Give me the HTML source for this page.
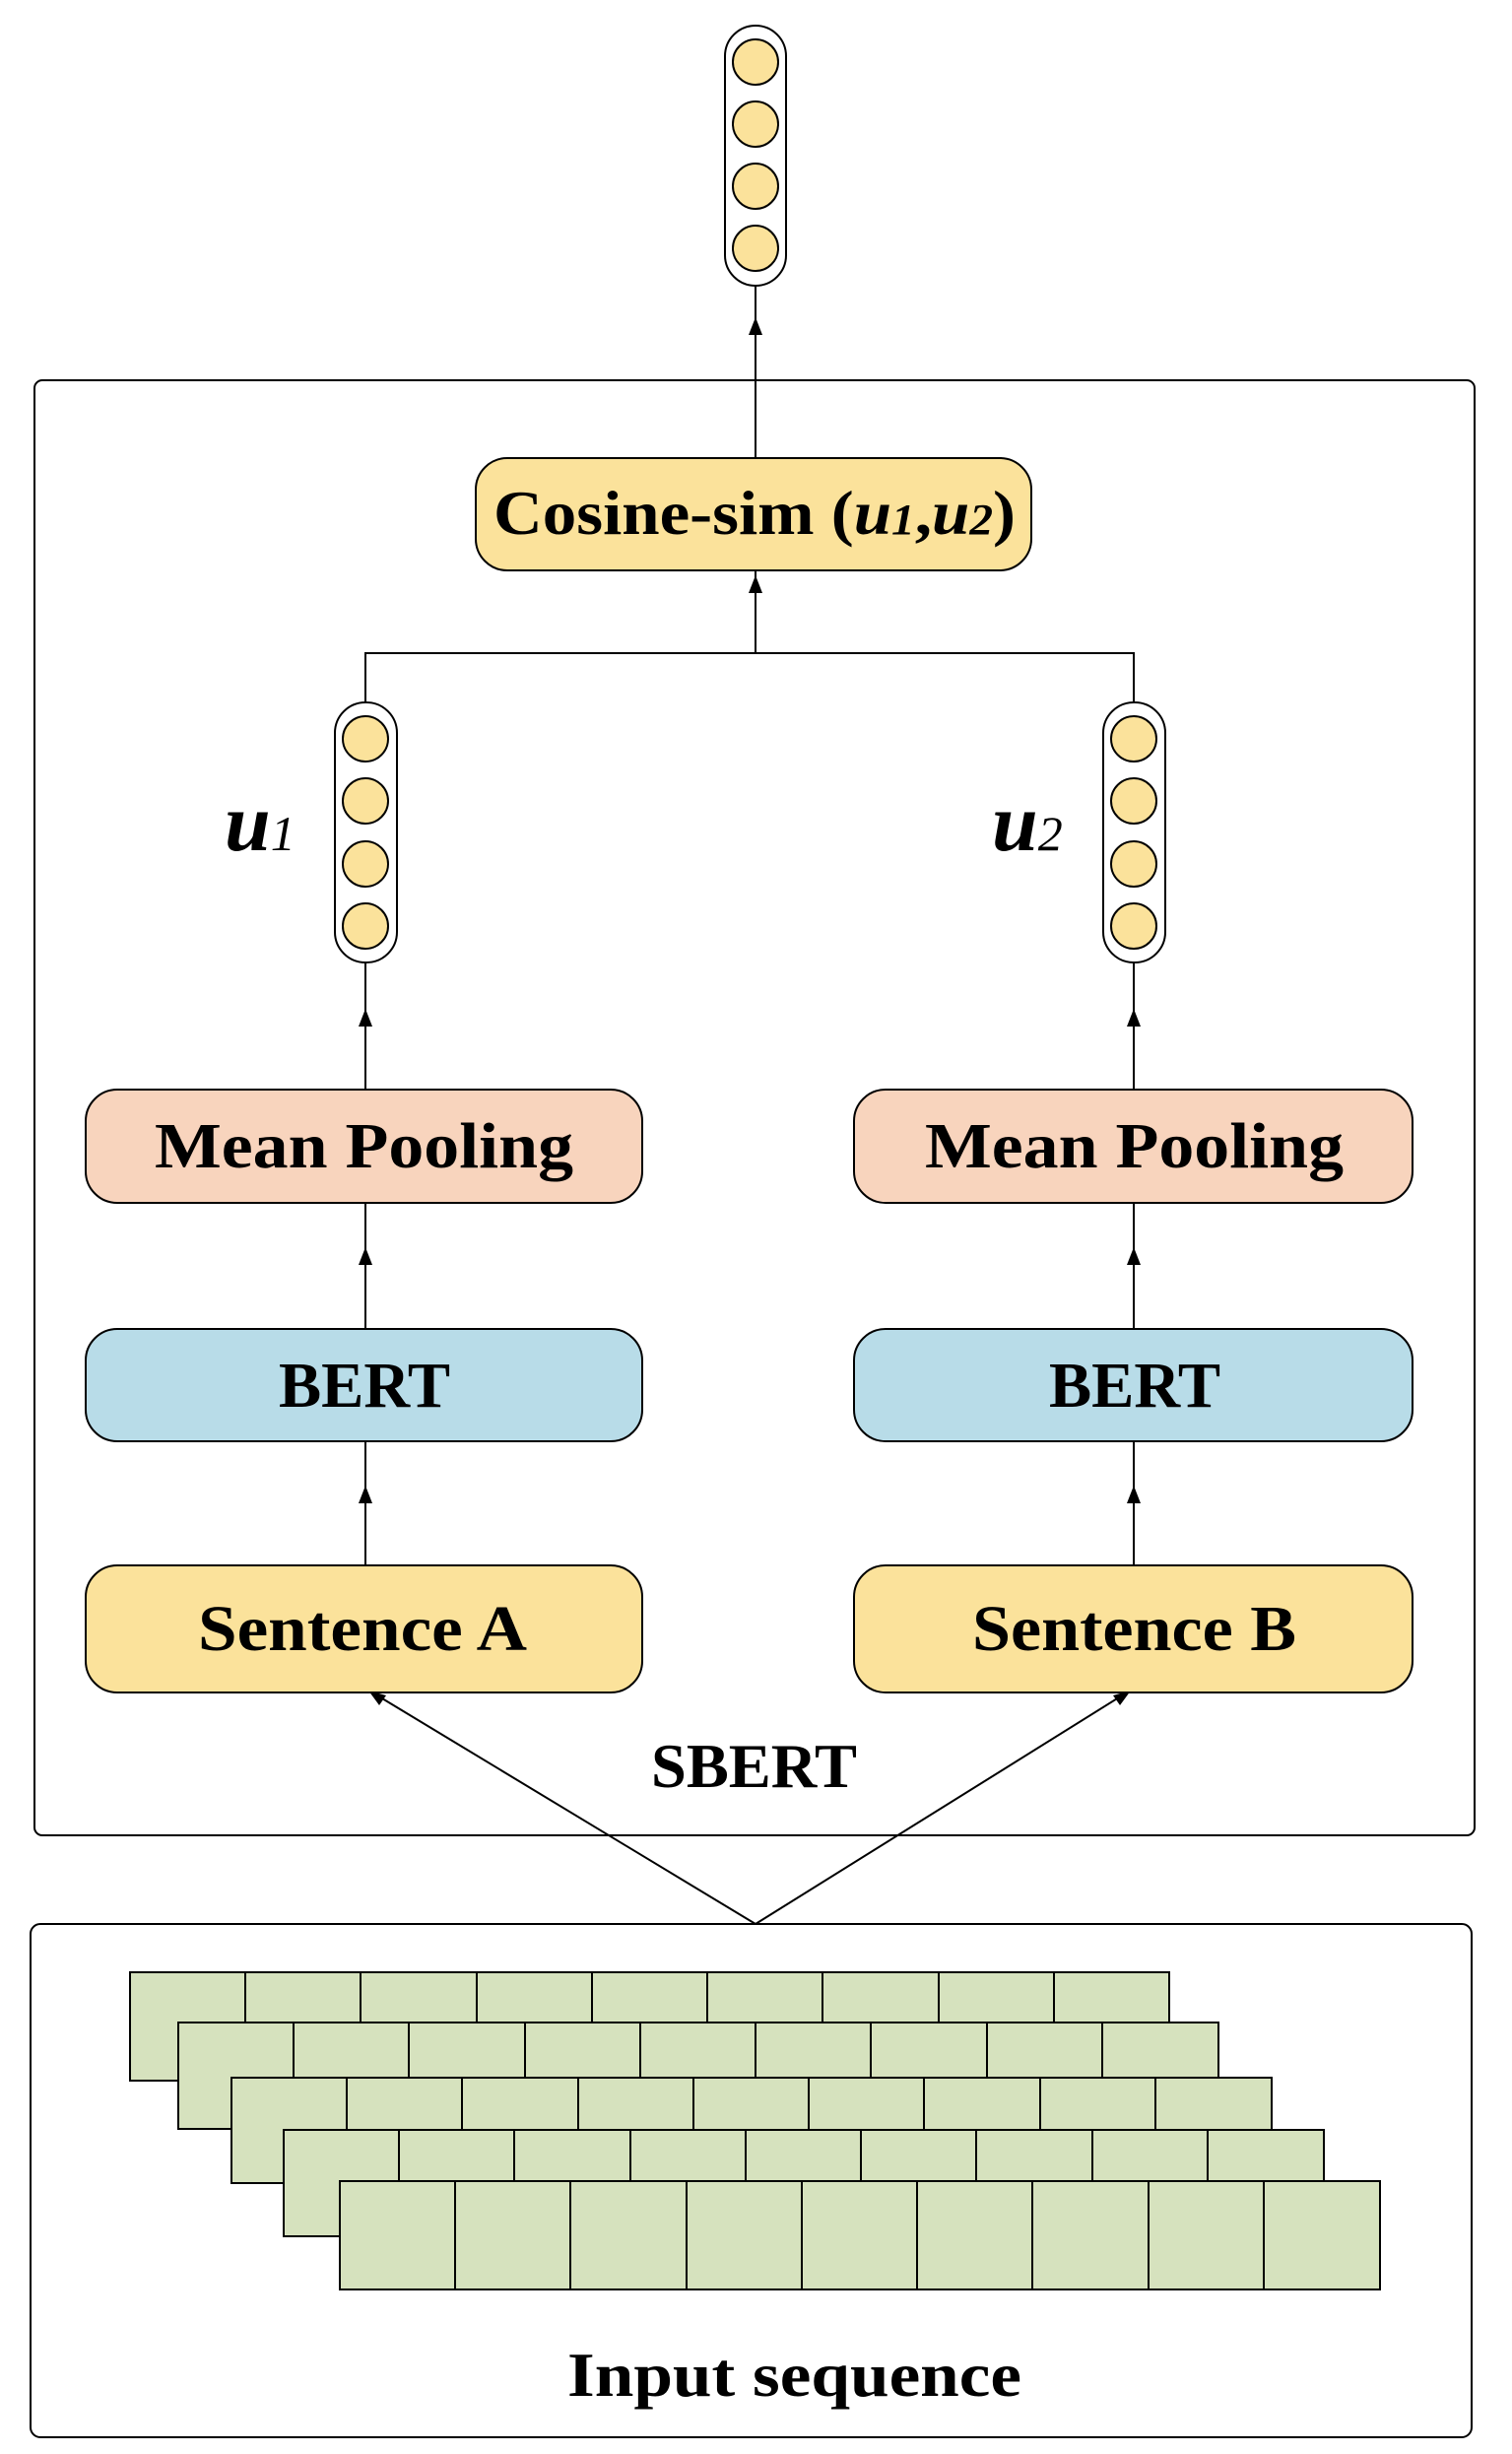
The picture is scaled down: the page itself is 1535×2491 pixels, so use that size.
<!DOCTYPE html>
<html><head><meta charset="utf-8"><style>
html,body{margin:0;padding:0;background:#fff;}
svg{display:block;}
text{font-family:"Liberation Serif",serif;font-weight:bold;fill:#000;}
</style></head><body>
<svg width="1535" height="2491" viewBox="0 0 1535 2491" xmlns="http://www.w3.org/2000/svg">
<defs>
<marker id="ah" viewBox="0 0 10 10" refX="9" refY="5" markerWidth="7" markerHeight="7" orient="auto-start-reverse" markerUnits="userSpaceOnUse">
<path d="M0,0 L10,5 L0,10 z" fill="#000" transform="scale(1)"/>
</marker>
</defs>
<g stroke="#000" stroke-width="2" fill="none">
<rect x="35" y="386" width="1462" height="1477" rx="8"/>
<rect x="31" y="1953" width="1463" height="521" rx="10"/>
</g>

<!-- top vector -->
<g stroke="#000" stroke-width="2">
<rect x="736" y="26" width="62" height="264" rx="31" fill="#fff"/>
<circle cx="767" cy="63" r="23" fill="#fbe29b"/>
<circle cx="767" cy="126" r="23" fill="#fbe29b"/>
<circle cx="767" cy="189" r="23" fill="#fbe29b"/>
<circle cx="767" cy="252" r="23" fill="#fbe29b"/>
</g>
<!-- u1 vector -->
<g stroke="#000" stroke-width="2">
<rect x="340" y="713" width="63" height="264" rx="31" fill="#fff"/>
<circle cx="371" cy="750" r="23" fill="#fbe29b"/>
<circle cx="371" cy="813" r="23" fill="#fbe29b"/>
<circle cx="371" cy="877" r="23" fill="#fbe29b"/>
<circle cx="371" cy="940" r="23" fill="#fbe29b"/>
</g>
<!-- u2 vector -->
<g stroke="#000" stroke-width="2">
<rect x="1120" y="713" width="63" height="264" rx="31" fill="#fff"/>
<circle cx="1151" cy="750" r="23" fill="#fbe29b"/>
<circle cx="1151" cy="813" r="23" fill="#fbe29b"/>
<circle cx="1151" cy="877" r="23" fill="#fbe29b"/>
<circle cx="1151" cy="940" r="23" fill="#fbe29b"/>
</g>

<!-- connectors -->
<g stroke="#000" stroke-width="2" fill="none">
<line x1="767" y1="465" x2="767" y2="318"/>
<line x1="767" y1="290" x2="767" y2="318"/>
<polyline points="371,713 371,663 1151,663 1151,713"/>
<line x1="767" y1="663" x2="767" y2="600"/>
<line x1="767" y1="600" x2="767" y2="579"/>
<line x1="371" y1="1106" x2="371" y2="977"/>
<line x1="1151" y1="1106" x2="1151" y2="977"/>
<line x1="371" y1="1349" x2="371" y2="1221"/>
<line x1="1151" y1="1349" x2="1151" y2="1221"/>
<line x1="371" y1="1589" x2="371" y2="1463"/>
<line x1="1151" y1="1589" x2="1151" y2="1463"/>
<line x1="767" y1="1953" x2="378" y2="1718"/>
<line x1="767" y1="1953" x2="1144" y2="1718"/>
</g>
<g fill="#000">
<path d="M760,340 L774,340 L767,322 z"/>
<path d="M760,602 L774,602 L767,584 z"/>
<path d="M364,1042 L378,1042 L371,1024 z"/>
<path d="M1144,1042 L1158,1042 L1151,1024 z"/>
<path d="M364,1284 L378,1284 L371,1266 z"/>
<path d="M1144,1284 L1158,1284 L1151,1266 z"/>
<path d="M364,1526 L378,1526 L371,1508 z"/>
<path d="M1144,1526 L1158,1526 L1151,1508 z"/>
<path d="M374,1716 L392,1721 L385,1731 z"/>
<path d="M1148,1716 L1130,1721 L1137,1731 z"/>
</g>

<!-- boxes -->
<g stroke="#000" stroke-width="2">
<rect x="483" y="465" width="564" height="114" rx="32" fill="#fbe29b"/>
<rect x="87" y="1106" width="565" height="115" rx="32" fill="#f8d4bd"/>
<rect x="867" y="1106" width="567" height="115" rx="32" fill="#f8d4bd"/>
<rect x="87" y="1349" width="565" height="114" rx="32" fill="#b8dce8"/>
<rect x="867" y="1349" width="567" height="114" rx="32" fill="#b8dce8"/>
<rect x="87" y="1589" width="565" height="129" rx="32" fill="#fbe29b"/>
<rect x="867" y="1589" width="567" height="129" rx="32" fill="#fbe29b"/>
</g>

<text x="501" y="542" font-size="64" textLength="530" lengthAdjust="spacingAndGlyphs">Cosine-sim (<tspan font-style="italic">u</tspan><tspan font-style="italic" font-size="44">1</tspan>,<tspan font-style="italic">u</tspan><tspan font-style="italic" font-size="44">2</tspan>)</text>
<text x="157" y="1185" font-size="66" textLength="425" lengthAdjust="spacingAndGlyphs">Mean Pooling</text>
<text x="939" y="1185" font-size="66" textLength="425" lengthAdjust="spacingAndGlyphs">Mean Pooling</text>
<text x="283" y="1428" font-size="66" textLength="174" lengthAdjust="spacingAndGlyphs">BERT</text>
<text x="1065" y="1428" font-size="66" textLength="174" lengthAdjust="spacingAndGlyphs">BERT</text>
<text x="201" y="1675" font-size="66" textLength="334" lengthAdjust="spacingAndGlyphs">Sentence A</text>
<text x="987" y="1675" font-size="66" textLength="329" lengthAdjust="spacingAndGlyphs">Sentence B</text>
<text x="661" y="1814" font-size="64" textLength="209" lengthAdjust="spacingAndGlyphs">SBERT</text>
<text x="576" y="2432" font-size="64" textLength="461" lengthAdjust="spacingAndGlyphs">Input sequence</text>
<text x="228" y="863" font-size="84" font-style="italic">u<tspan font-size="50" font-weight="normal">1</tspan></text>
<text x="1007" y="863" font-size="84" font-style="italic">u<tspan font-size="50" font-weight="normal">2</tspan></text>

<!-- input grid -->
<g stroke="#000" stroke-width="2" fill="#d6e2be">
<g transform="translate(132,2002)">
<rect x="0" y="0" width="1055" height="110"/>
<path d="M117,0V110M234,0V110M352,0V110M469,0V110M586,0V110M703,0V110M821,0V110M938,0V110" fill="none"/>
</g>
<g transform="translate(181,2053)">
<rect x="0" y="0" width="1056" height="108"/>
<path d="M117,0V108M234,0V108M352,0V108M469,0V108M586,0V108M703,0V108M821,0V108M938,0V108" fill="none"/>
</g>
<g transform="translate(235,2109)">
<rect x="0" y="0" width="1056" height="107"/>
<path d="M117,0V107M234,0V107M352,0V107M469,0V107M586,0V107M703,0V107M821,0V107M938,0V107" fill="none"/>
</g>
<g transform="translate(288,2162)">
<rect x="0" y="0" width="1056" height="108"/>
<path d="M117,0V108M234,0V108M352,0V108M469,0V108M586,0V108M703,0V108M821,0V108M938,0V108" fill="none"/>
</g>
<g transform="translate(345,2214)">
<rect x="0" y="0" width="1056" height="110"/>
<path d="M117,0V110M234,0V110M352,0V110M469,0V110M586,0V110M703,0V110M821,0V110M938,0V110" fill="none"/>
</g>
</g>
</svg>
</body></html>
